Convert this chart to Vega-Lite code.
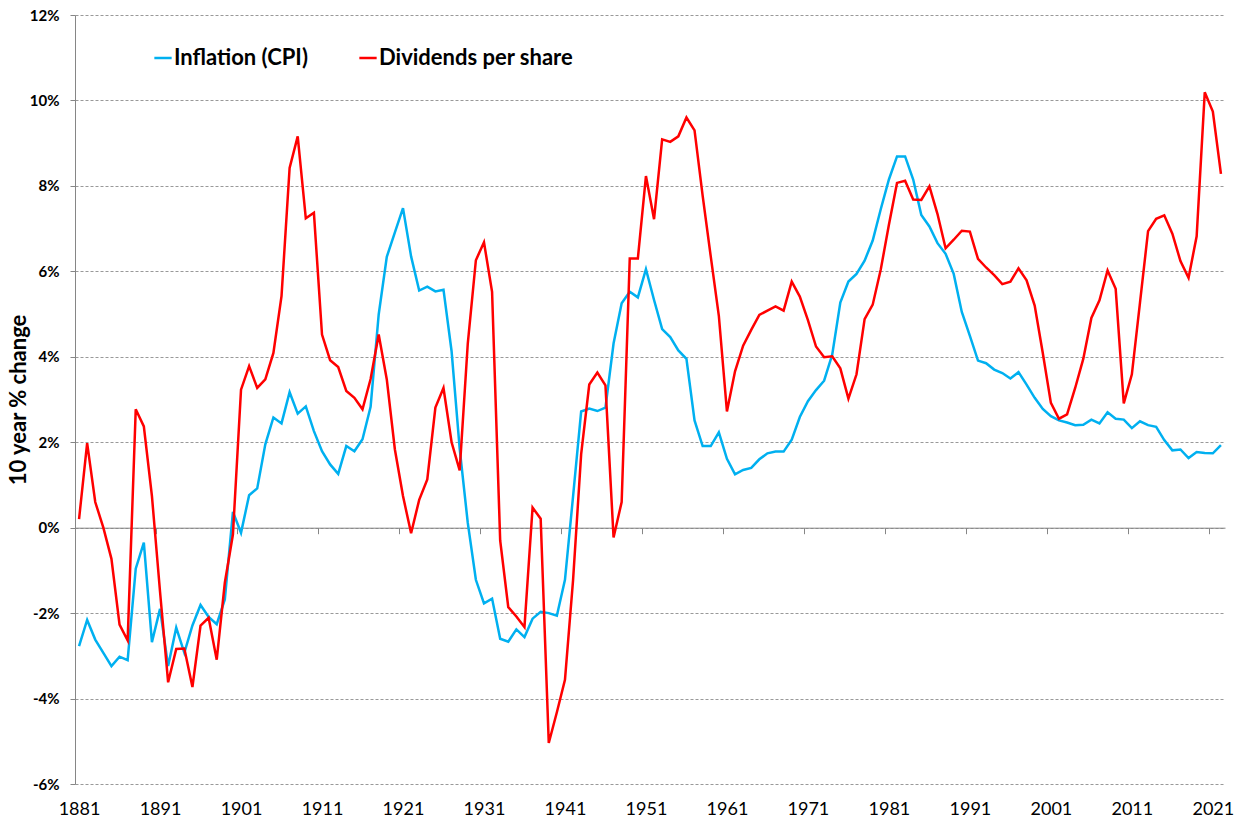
{
  "$schema": "https://vega.github.io/schema/vega-lite/v6.json",
  "width": 1150,
  "height": 769,
  "autosize": {"type": "none"},
  "padding": {"left": 75, "top": 15, "right": 14, "bottom": 37},
  "background": "white",
  "config": {"font": "Lato", "view": {"stroke": null}},
  "data": {"values": [
    {"year":1881,"cpi":-2.77,"div":0.2},
    {"year":1882,"cpi":-2.16,"div":1.98},
    {"year":1883,"cpi":-2.62,"div":0.6},
    {"year":1884,"cpi":-2.93,"div":0.0},
    {"year":1885,"cpi":-3.24,"div":-0.73},
    {"year":1886,"cpi":-3.02,"div":-2.27},
    {"year":1887,"cpi":-3.10,"div":-2.64},
    {"year":1888,"cpi":-0.96,"div":2.77},
    {"year":1889,"cpi":-0.35,"div":2.37},
    {"year":1890,"cpi":-2.68,"div":0.74},
    {"year":1891,"cpi":-1.90,"div":-1.5},
    {"year":1892,"cpi":-3.24,"div":-3.62},
    {"year":1893,"cpi":-2.34,"div":-2.84},
    {"year":1894,"cpi":-2.93,"div":-2.83},
    {"year":1895,"cpi":-2.29,"div":-3.73},
    {"year":1896,"cpi":-1.81,"div":-2.29},
    {"year":1897,"cpi":-2.09,"div":-2.11},
    {"year":1898,"cpi":-2.26,"div":-3.09},
    {"year":1899,"cpi":-1.68,"div":-1.29},
    {"year":1900,"cpi":0.37,"div":-0.16},
    {"year":1901,"cpi":-0.12,"div":3.23},
    {"year":1902,"cpi":0.76,"div":3.78},
    {"year":1903,"cpi":0.92,"div":3.27},
    {"year":1904,"cpi":1.95,"div":3.47},
    {"year":1905,"cpi":2.58,"div":4.09},
    {"year":1906,"cpi":2.44,"div":5.42},
    {"year":1907,"cpi":3.17,"div":8.42},
    {"year":1908,"cpi":2.67,"div":9.16},
    {"year":1909,"cpi":2.84,"div":7.24},
    {"year":1910,"cpi":2.26,"div":7.37},
    {"year":1911,"cpi":1.79,"div":4.52},
    {"year":1912,"cpi":1.48,"div":3.92},
    {"year":1913,"cpi":1.26,"div":3.76},
    {"year":1914,"cpi":1.91,"div":3.20},
    {"year":1915,"cpi":1.79,"div":3.04},
    {"year":1916,"cpi":2.07,"div":2.77},
    {"year":1917,"cpi":2.83,"div":3.48},
    {"year":1918,"cpi":4.99,"div":4.52},
    {"year":1919,"cpi":6.34,"div":3.47},
    {"year":1920,"cpi":6.91,"div":1.83},
    {"year":1921,"cpi":7.48,"div":0.74},
    {"year":1922,"cpi":6.35,"div":-0.13},
    {"year":1923,"cpi":5.55,"div":0.65},
    {"year":1924,"cpi":5.64,"div":1.13},
    {"year":1925,"cpi":5.53,"div":2.81},
    {"year":1926,"cpi":5.57,"div":3.27},
    {"year":1927,"cpi":4.13,"div":2.00},
    {"year":1928,"cpi":1.85,"div":1.34},
    {"year":1929,"cpi":0.11,"div":4.31},
    {"year":1930,"cpi":-1.22,"div":6.26},
    {"year":1931,"cpi":-1.77,"div":6.68},
    {"year":1932,"cpi":-1.66,"div":5.52},
    {"year":1933,"cpi":-2.60,"div":-0.30},
    {"year":1934,"cpi":-2.67,"div":-1.86},
    {"year":1935,"cpi":-2.38,"div":-2.08},
    {"year":1936,"cpi":-2.56,"div":-2.33},
    {"year":1937,"cpi":-2.13,"div":0.47},
    {"year":1938,"cpi":-1.97,"div":0.21},
    {"year":1939,"cpi":-2.00,"div":-5.04},
    {"year":1940,"cpi":-2.06,"div":-4.32},
    {"year":1941,"cpi":-1.22,"div":-3.56},
    {"year":1942,"cpi":0.73,"div":-1.23},
    {"year":1943,"cpi":2.72,"div":1.72},
    {"year":1944,"cpi":2.79,"div":3.35},
    {"year":1945,"cpi":2.73,"div":3.63},
    {"year":1946,"cpi":2.81,"div":3.33},
    {"year":1947,"cpi":4.31,"div":-0.23},
    {"year":1948,"cpi":5.25,"div":0.60},
    {"year":1949,"cpi":5.52,"div":6.30},
    {"year":1950,"cpi":5.39,"div":6.30},
    {"year":1951,"cpi":6.05,"div":8.23},
    {"year":1952,"cpi":5.33,"div":7.22},
    {"year":1953,"cpi":4.65,"div":9.09},
    {"year":1954,"cpi":4.46,"div":9.03},
    {"year":1955,"cpi":4.15,"div":9.16},
    {"year":1956,"cpi":3.95,"div":9.60},
    {"year":1957,"cpi":2.51,"div":9.30},
    {"year":1958,"cpi":1.91,"div":7.77},
    {"year":1959,"cpi":1.91,"div":6.35},
    {"year":1960,"cpi":2.23,"div":4.96},
    {"year":1961,"cpi":1.61,"div":2.72},
    {"year":1962,"cpi":1.25,"div":3.66},
    {"year":1963,"cpi":1.35,"div":4.26},
    {"year":1964,"cpi":1.40,"div":4.63},
    {"year":1965,"cpi":1.60,"div":4.98},
    {"year":1966,"cpi":1.74,"div":5.08},
    {"year":1967,"cpi":1.78,"div":5.18},
    {"year":1968,"cpi":1.78,"div":5.08},
    {"year":1969,"cpi":2.06,"div":5.76},
    {"year":1970,"cpi":2.59,"div":5.41},
    {"year":1971,"cpi":2.96,"div":4.86},
    {"year":1972,"cpi":3.22,"div":4.24},
    {"year":1973,"cpi":3.44,"div":3.99},
    {"year":1974,"cpi":4.05,"div":4.01},
    {"year":1975,"cpi":5.27,"div":3.73},
    {"year":1976,"cpi":5.76,"div":3.02},
    {"year":1977,"cpi":5.94,"div":3.59},
    {"year":1978,"cpi":6.25,"div":4.88},
    {"year":1979,"cpi":6.72,"div":5.22},
    {"year":1980,"cpi":7.46,"div":6.05},
    {"year":1981,"cpi":8.15,"div":7.09},
    {"year":1982,"cpi":8.69,"div":8.07},
    {"year":1983,"cpi":8.69,"div":8.12},
    {"year":1984,"cpi":8.15,"div":7.68},
    {"year":1985,"cpi":7.32,"div":7.67},
    {"year":1986,"cpi":7.05,"div":7.99},
    {"year":1987,"cpi":6.66,"div":7.34},
    {"year":1988,"cpi":6.41,"div":6.54},
    {"year":1989,"cpi":5.94,"div":6.74},
    {"year":1990,"cpi":5.05,"div":6.95},
    {"year":1991,"cpi":4.49,"div":6.93},
    {"year":1992,"cpi":3.91,"div":6.29},
    {"year":1993,"cpi":3.85,"div":6.09},
    {"year":1994,"cpi":3.70,"div":5.91},
    {"year":1995,"cpi":3.62,"div":5.70},
    {"year":1996,"cpi":3.49,"div":5.76},
    {"year":1997,"cpi":3.64,"div":6.07},
    {"year":1998,"cpi":3.35,"div":5.79},
    {"year":1999,"cpi":3.04,"div":5.20},
    {"year":2000,"cpi":2.78,"div":4.09},
    {"year":2001,"cpi":2.61,"div":2.92},
    {"year":2002,"cpi":2.51,"div":2.55},
    {"year":2003,"cpi":2.46,"div":2.65},
    {"year":2004,"cpi":2.40,"div":3.27},
    {"year":2005,"cpi":2.41,"div":3.95},
    {"year":2006,"cpi":2.53,"div":4.91},
    {"year":2007,"cpi":2.44,"div":5.32},
    {"year":2008,"cpi":2.70,"div":6.02},
    {"year":2009,"cpi":2.55,"div":5.59},
    {"year":2010,"cpi":2.53,"div":2.91},
    {"year":2011,"cpi":2.33,"div":3.59},
    {"year":2012,"cpi":2.49,"div":5.26},
    {"year":2013,"cpi":2.40,"div":6.94},
    {"year":2014,"cpi":2.36,"div":7.23},
    {"year":2015,"cpi":2.05,"div":7.31},
    {"year":2016,"cpi":1.81,"div":6.88},
    {"year":2017,"cpi":1.83,"div":6.24},
    {"year":2018,"cpi":1.63,"div":5.85},
    {"year":2019,"cpi":1.77,"div":6.82},
    {"year":2020,"cpi":1.75,"div":10.19},
    {"year":2021,"cpi":1.74,"div":9.74},
    {"year":2022,"cpi":1.93,"div":8.28}
  ]},
  "transform": [{"fold": ["cpi", "div"], "as": ["series", "value"]}],
  "mark": {"type": "line", "strokeWidth": 2.5},
  "encoding": {
    "x": {
      "field": "year",
      "type": "quantitative",
      "scale": {"domain": [1880.5, 2022.5], "nice": false, "zero": false},
      "axis": {
        "values": [1881, 1891, 1901, 1911, 1921, 1931, 1941, 1951, 1961, 1971, 1981, 1991, 2001, 2011, 2021],
        "format": "d",
        "offset": -256.3,
        "domainColor": "#868686",
        "domainWidth": 1,
        "tickColor": "#868686",
        "tickSize": 6,
        "tickOffset": -4.05,
        "labelOffset": 4.05,
        "labelPadding": 267,
        "labelFontSize": 18,
        "labelColor": "black",
        "labelFlush": false,
        "labelOverlap": false,
        "grid": false,
        "title": null
      }
    },
    "y": {
      "field": "value",
      "type": "quantitative",
      "scale": {"domain": [-6, 12], "nice": false, "zero": false},
      "axis": {
        "values": [-6, -4, -2, 0, 2, 4, 6, 8, 10, 12],
        "labelExpr": "datum.value + '%'",
        "labelFontSize": 15,
        "labelFontWeight": "bold",
        "labelColor": "black",
        "labelPadding": 11,
        "tickSize": 5,
        "tickColor": "#868686",
        "domainColor": "#868686",
        "gridColor": "#999999",
        "gridDash": [3, 2],
        "title": "10 year % change",
        "titleFontSize": 22,
        "titleFontWeight": "bold",
        "titleColor": "black",
        "titlePadding": -1
      }
    },
    "color": {
      "field": "series",
      "type": "nominal",
      "scale": {"domain": ["cpi", "div"], "range": ["#00B0F0", "#FF0000"]},
      "legend": {
        "title": null,
        "orient": "none",
        "legendX": 77,
        "legendY": 32,
        "direction": "horizontal",
        "symbolType": "stroke",
        "symbolSize": 300,
        "symbolStrokeWidth": 2.5,
        "labelFontSize": 22,
        "labelFontWeight": "bold",
        "labelColor": "black",
        "labelOffset": 0,
        "labelLimit": 400,
        "columnPadding": 46,
        "labelExpr": "datum.value == 'cpi' ? 'Inflation (CPI)' : 'Dividends per share'"
      }
    }
  }
}
